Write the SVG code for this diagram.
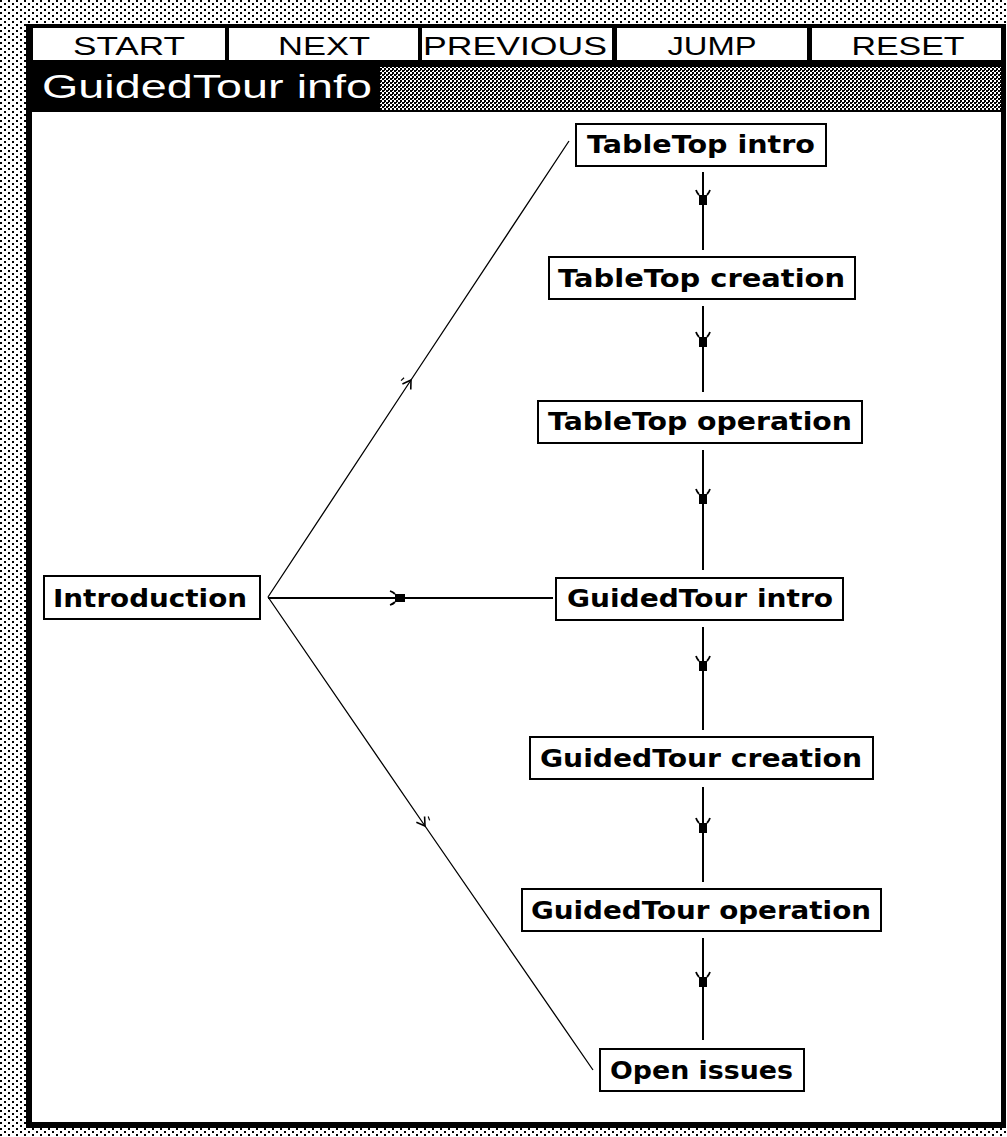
<svg xmlns="http://www.w3.org/2000/svg" width="1007" height="1137" viewBox="0 0 1007 1137">
<defs>
<pattern id="dots" width="8" height="6" patternUnits="userSpaceOnUse">
<rect width="8" height="6" fill="#fff"/>
<rect x="0" y="0" width="2" height="2" fill="#000"/>
<rect x="4" y="3" width="2" height="2" fill="#000"/>
</pattern>
<pattern id="fine" width="4" height="4" patternUnits="userSpaceOnUse">
<rect width="4" height="4" fill="#fff"/>
<rect x="0" y="0" width="2" height="2" fill="#000"/>
<rect x="2" y="2" width="2" height="2" fill="#000"/>
<rect x="0" y="2" width="1" height="1" fill="#000"/>
</pattern>
<marker id="filled" markerUnits="userSpaceOnUse" markerWidth="24" markerHeight="24" refX="0" refY="0" viewBox="-12 -12 24 24" orient="auto" overflow="visible">
<rect x="-5" y="-4" width="10" height="8" fill="#000"/>
<path d="M-10,-7 Q-7,-6 -5,-4 M-10,7 Q-7,6 -5,4" stroke="#000" stroke-width="1.8" fill="none"/>
</marker>
<marker id="open" markerUnits="userSpaceOnUse" markerWidth="20" markerHeight="20" refX="0" refY="0" viewBox="-10 -10 20 20" orient="auto" overflow="visible">
<path d="M-8,-5 L0,0 L-8,5" stroke="#000" stroke-width="1.6" fill="none"/>
<path d="M-6,-8 L-2,-7" stroke="#000" stroke-width="1.2" fill="none"/>
</marker>
</defs>
<style>
.btn{fill:#fff}
.btxt{font-family:"Liberation Sans",Arial,sans-serif;font-size:25px;fill:#000;text-anchor:middle}
.box{fill:#fff;stroke:#000;stroke-width:2}
.lbl{font-family:"DejaVu Sans","Liberation Sans",sans-serif;font-weight:bold;font-size:24px;fill:#000}
.v{stroke:#000;stroke-width:2;fill:none;marker-mid:url(#filled)}
.d{stroke:#000;stroke-width:1.3;fill:none;marker-mid:url(#open)}
</style>
<rect width="1007" height="1137" fill="url(#dots)"/>
<rect x="26" y="24" width="980" height="1104" fill="#000"/>
<g id="toolbar">
<rect class="btn" x="33" y="28" width="192" height="32"/>
<rect class="btn" x="229" y="28" width="189" height="32"/>
<rect class="btn" x="422" y="28" width="190" height="32"/>
<rect class="btn" x="617" y="28" width="190" height="32"/>
<rect class="btn" x="812" y="28" width="189" height="32"/>
<text class="btxt" x="129" y="55" textLength="112" lengthAdjust="spacingAndGlyphs">START</text>
<text class="btxt" x="324" y="55" textLength="92" lengthAdjust="spacingAndGlyphs">NEXT</text>
<text class="btxt" x="515" y="55" textLength="184" lengthAdjust="spacingAndGlyphs">PREVIOUS</text>
<text class="btxt" x="712" y="55" textLength="89" lengthAdjust="spacingAndGlyphs">JUMP</text>
<text class="btxt" x="908" y="55" textLength="113" lengthAdjust="spacingAndGlyphs">RESET</text>
</g>
<g id="titlebar">
<rect x="380" y="67" width="621" height="43" fill="url(#fine)"/>
<text x="42" y="98" font-family="'Liberation Sans',Arial,sans-serif" font-size="33" fill="#fff" textLength="330" lengthAdjust="spacingAndGlyphs">GuidedTour info</text>
</g>
<rect x="32" y="112" width="969" height="1010" fill="#fff"/>
<g id="connectors">
<path class="v" d="M703,172 L703,200 L703,250"/>
<path class="v" d="M703,306 L703,342 L703,392"/>
<path class="v" d="M703,450 L703,499 L703,570"/>
<path class="v" d="M703,627 L703,666 L703,730"/>
<path class="v" d="M703,787 L703,828 L703,882"/>
<path class="v" d="M703,938 L703,982 L703,1040"/>
<path class="v" d="M268,598 L400,598 L553,598"/>
<path class="d" d="M268,597 L411,380 L569,141"/>
<path class="d" d="M268,597 L425,826 L593,1070"/>
</g>
<g id="n-tabletop-intro">
<rect class="box" x="576" y="124" width="250" height="42"/>
<text class="lbl" x="587" y="153" textLength="228" lengthAdjust="spacingAndGlyphs">TableTop intro</text>
</g>
<g id="n-tabletop-creation">
<rect class="box" x="549" y="257" width="306" height="42"/>
<text class="lbl" x="558" y="287" textLength="287" lengthAdjust="spacingAndGlyphs">TableTop creation</text>
</g>
<g id="n-tabletop-operation">
<rect class="box" x="538" y="401" width="324" height="42"/>
<text class="lbl" x="548" y="430" textLength="304" lengthAdjust="spacingAndGlyphs">TableTop operation</text>
</g>
<g id="n-guidedtour-intro">
<rect class="box" x="556" y="578" width="287" height="42"/>
<text class="lbl" x="567" y="607" textLength="266" lengthAdjust="spacingAndGlyphs">GuidedTour intro</text>
</g>
<g id="n-guidedtour-creation">
<rect class="box" x="530" y="737" width="343" height="42"/>
<text class="lbl" x="540" y="767" textLength="322" lengthAdjust="spacingAndGlyphs">GuidedTour creation</text>
</g>
<g id="n-guidedtour-operation">
<rect class="box" x="522" y="889" width="359" height="42"/>
<text class="lbl" x="531" y="919" textLength="340" lengthAdjust="spacingAndGlyphs">GuidedTour operation</text>
</g>
<g id="n-open-issues">
<rect class="box" x="600" y="1049" width="204" height="42"/>
<text class="lbl" x="610" y="1079" textLength="183" lengthAdjust="spacingAndGlyphs">Open issues</text>
</g>
<g id="n-introduction">
<rect class="box" x="44" y="576" width="216" height="43"/>
<text class="lbl" x="53" y="607" textLength="194" lengthAdjust="spacingAndGlyphs">Introduction</text>
</g>
</svg>
